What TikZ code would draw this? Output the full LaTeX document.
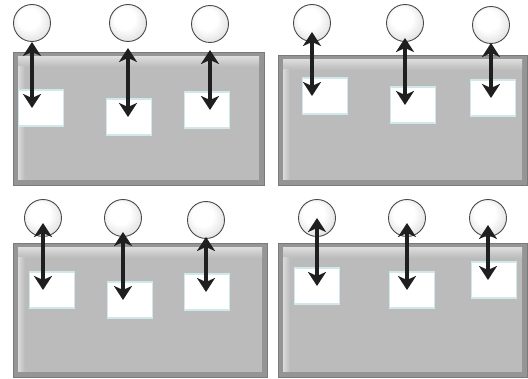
\documentclass[tikz,border=0pt]{standalone}
\usetikzlibrary{arrows.meta}
\definecolor{pnlEdge}{HTML}{959595}
\definecolor{pnlLine}{HTML}{7A7A7A}
\definecolor{pnlFace}{HTML}{BBBBBB}
\definecolor{pnlHi}{HTML}{DADADA}
\definecolor{ballLine}{HTML}{4A4A4A}
\definecolor{slotEdge}{HTML}{CFE8EA}
\pgfdeclareradialshading{myball}{\pgfpoint{-6bp}{8bp}}{color(0bp)=(white); color(14bp)=(white); color(30bp)=(black!12); color(50bp)=(black!38)}
\tikzset{
  panelout/.style={fill=pnlEdge, draw=pnlLine, line width=0.8pt},
  panelin/.style={fill=pnlFace},
  ball/.style={circle, minimum size=37pt, inner sep=0pt, draw=ballLine, line width=0.9pt, shading=myball},
  slot/.style={rectangle, fill=white, draw=slotEdge, line width=1.2pt, minimum width=45pt, minimum height=36pt, inner sep=0pt},
  dbl/.style={line width=3.4pt, black!88, {Stealth[length=14pt,width=18pt,inset=4pt]}-{Stealth[length=14pt,width=18pt,inset=4pt]}}
}
\newcommand{\mypanel}[4]{%
  \draw[panelout] (#1,#2) rectangle (#3,#4);
  \fill[panelin] (#1+5,#2+5) rectangle (#3-5,#4-5);
  \shade[top color=pnlHi, bottom color=pnlFace] (#1+5,#2+5) rectangle (#3-5,#2+15);
  \shade[left color=pnlHi, right color=pnlFace] (#1+5,#2+15) rectangle (#1+12,#4-5);
}
\newcommand{\myarrow}[3]{\draw[dbl] (#1.center |- 0,#3) -- (#1.center |- #2.center);}
\begin{document}
\begin{tikzpicture}[x=1pt,y=-1pt]
\useasboundingbox (0,0) rectangle (528,379);
% panels
\mypanel{13}{52}{264}{185}
\mypanel{278}{55}{527}{185}
\mypanel{13}{243}{267}{377}
\mypanel{278}{243}{527}{377}
% panel 1
\node[slot] (s11) at (41,108) {};
\node[slot] (s12) at (129,117) {};
\node[slot] (s13) at (207,110) {};
\node[ball] (c11) at (32,23) {};
\node[ball] (c12) at (128,23) {};
\node[ball] (c13) at (210,24) {};
\myarrow{c11}{s11}{42}
\myarrow{c12}{s12}{48}
\myarrow{c13}{s13}{50}
% panel 2
\node[slot] (s21) at (325,96) {};
\node[slot] (s22) at (413,105) {};
\node[slot] (s23) at (493,98) {};
\node[ball] (c21) at (312,23) {};
\node[ball] (c22) at (405,23) {};
\node[ball] (c23) at (491,25) {};
\myarrow{c21}{s21}{32}
\myarrow{c22}{s22}{38}
\myarrow{c23}{s23}{43}
% panel 3
\node[slot] (s31) at (52,290) {};
\node[slot] (s32) at (130,300) {};
\node[slot] (s33) at (207,292) {};
\node[ball] (c31) at (43,218) {};
\node[ball] (c32) at (123,218) {};
\node[ball] (c33) at (206,220) {};
\myarrow{c31}{s31}{223}
\myarrow{c32}{s32}{232}
\myarrow{c33}{s33}{237}
% panel 4
\node[slot] (s41) at (317,286) {};
\node[slot] (s42) at (412,290) {};
\node[slot] (s43) at (494,280) {};
\node[ball] (c41) at (317,218) {};
\node[ball] (c42) at (407,218) {};
\node[ball] (c43) at (488,218) {};
\myarrow{c41}{s41}{218}
\myarrow{c42}{s42}{223}
\myarrow{c43}{s43}{225}
\end{tikzpicture}
\end{document}
